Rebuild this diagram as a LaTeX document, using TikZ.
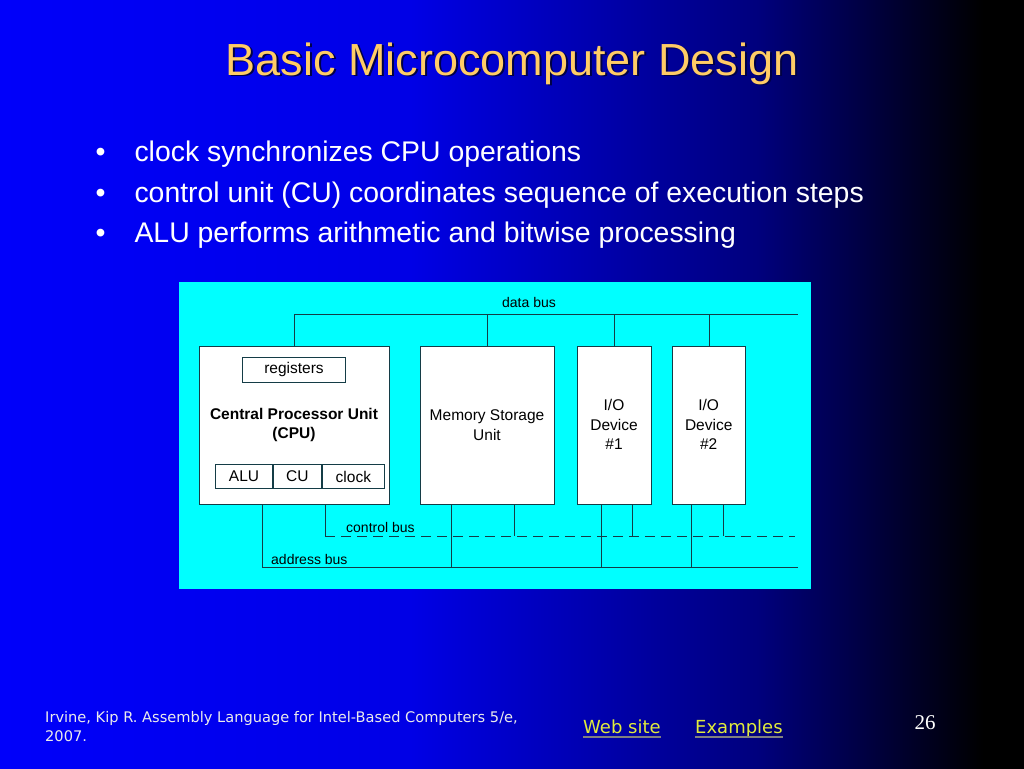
\documentclass[tikz,border=0pt]{standalone}
\usepackage{fontspec}
\setmainfont{Liberation Sans}
\newfontfamily\linkfont{DejaVu Sans}
\newfontfamily\numfont{Liberation Serif}
\usetikzlibrary{positioning}

\definecolor{slideblue}{RGB}{0,0,250}
\definecolor{titlegold}{RGB}{255,204,102}
\definecolor{panelcyan}{RGB}{0,255,255}
\definecolor{wire}{RGB}{20,60,70}
\definecolor{linkyellow}{RGB}{225,235,60}
\definecolor{citegray}{RGB}{235,235,235}

\pgfdeclarehorizontalshading{slidebg}{100bp}{color(0bp)=(slideblue); color(25bp)=(slideblue);
  color(45bp)=(slideblue!92!black); color(62bp)=(slideblue!50!black); color(73bp)=(black); color(100bp)=(black)}

\begin{document}
\begin{tikzpicture}[x=1pt, y=-1pt,
    unit/.style={draw=wire, fill=white, line width=0.8pt, inner sep=0pt, anchor=north west},
    part/.style={draw=wire, fill=white, line width=0.8pt, inner sep=0pt, minimum height=24.4,
        font=\fontsize{15.5}{18}\selectfont},
    boxtext/.style={align=center, font=\fontsize{15.5}{19.5}\selectfont},
    buslabel/.style={font=\fontsize{14}{16}\selectfont},
    bus/.style={draw=wire, line width=0.8pt},
    ctrlbus/.style={bus, dash pattern=on 10pt off 6pt},
    bullet/.style={anchor=base west, text=white, font=\fontsize{28.4}{32}\selectfont},
    link/.style={anchor=base west, text=linkyellow, font=\linkfont\fontsize{18}{20}\selectfont}
]
    % slide background
    \shade[shading=slidebg] (0,0) rectangle (1024,768);
    \useasboundingbox (0,0) rectangle (1024,768);

    % title
    \node[anchor=base, text={rgb,255:red,0;green,0;blue,70}, font=\fontsize{45}{50}\selectfont] (titleshadow) at (514,77) {Basic Microcomputer Design};
    \node[anchor=base, text=titlegold, font=\fontsize{45}{50}\selectfont] (title) at (512,75) {Basic Microcomputer Design};

    % bullets
    \foreach \txt [count=\i] in {clock synchronizes CPU operations,
        control unit (CU) coordinates sequence of execution steps,
        ALU performs arithmetic and bitwise processing} {
        \node[bullet] (dot\i) at (92,121.5+40.3*\i) {•};
        \node[bullet] (item\i) at (131,121.5+40.3*\i) {\txt};
    }

    % diagram panel
    \fill[panelcyan] (179,282) rectangle (811,589);

    % units
    \node[unit, minimum width=189.4, minimum height=158] (cpu) at (199.3,346) {};
    \node[unit, minimum width=134, minimum height=158] (mem) at (420,346) {};
    \node[unit, minimum width=73.4, minimum height=158] (io1) at (577.3,346) {};
    \node[unit, minimum width=73.4, minimum height=158] (io2) at (672,346) {};

    \node[part, minimum width=103.4] (regs) at (294,369.7) {registers};
    \node[boxtext, font=\bfseries\fontsize{15.5}{19.5}\selectfont] (cpulbl) at (294,425) {Central Processor Unit\\(CPU)};
    \node[part, minimum width=57.3, anchor=west] (alu) at (215,476.5) {ALU};
    \node[part, minimum width=47.7, right=0pt of alu] (cu) {CU};
    \node[part, minimum width=62.7, right=0pt of cu] (clock) {clock};

    \node[boxtext] (memlbl) at (487,425) {Memory Storage\\Unit};
    \node[boxtext] (io1lbl) at (614,424.5) {I/O\\Device\\\#1};
    \node[boxtext] (io2lbl) at (708.7,424.5) {I/O\\Device\\\#2};

    % buses
    \coordinate (dbus) at (798,314.5);
    \coordinate (cbus) at (795,536);
    \coordinate (abus) at (798,567);

    \draw[bus] (cpu.north) |- (dbus);
    \foreach \n in {mem,io1,io2}
        \draw[bus] (\n.north) -- (\n.north |- dbus);

    \draw[bus] ([xshift=63.4pt]cpu.south west) |- (abus);
    \draw[bus] ([xshift=126pt]cpu.south west) coordinate (cputap) -- (cputap |- cbus);
    \draw[ctrlbus] (cputap |- cbus) -- (cbus);

    \draw[bus] ([xshift=31.7pt]mem.south west) coordinate (mema) -- (mema |- abus);
    \draw[bus] ([xshift=94.3pt]mem.south west) coordinate (memc) -- (memc |- cbus);
    \draw[bus] ([xshift=23.7pt]io1.south west) coordinate (io1a) -- (io1a |- abus);
    \draw[bus] ([xshift=55.4pt]io1.south west) coordinate (io1c) -- (io1c |- cbus);
    \draw[bus] ([xshift=19.7pt]io2.south west) coordinate (io2a) -- (io2a |- abus);
    \draw[bus] ([xshift=51.7pt]io2.south west) coordinate (io2c) -- (io2c |- cbus);

    \node[buslabel] (dlbl) at (529,302) {data bus};
    \node[buslabel, anchor=west, inner sep=0pt] (clbl) at (346,527) {control bus};
    \node[buslabel, anchor=west, inner sep=0pt] (albl) at (271,559) {address bus};

    % footer
    \node[anchor=base west, inner sep=0pt, text=citegray, font=\linkfont\fontsize{14.6}{16}\selectfont] (cite1) at (45,722) {Irvine, Kip R. Assembly Language for Intel-Based Computers 5/e,};
    \node[anchor=base west, inner sep=0pt, text=citegray, font=\linkfont\fontsize{14.6}{16}\selectfont] (cite2) at (45,741) {2007.};
    \node[link, inner sep=0pt] (web) at (583,733) {Web site};
    \node[link, inner sep=0pt] (examples) at (695,733) {Examples};
    \draw[gray, line width=1.6pt] ([yshift=-4pt]web.base west) -- ([yshift=-4pt]web.base east);
    \draw[gray, line width=1.6pt] ([yshift=-4pt]examples.base west) -- ([yshift=-4pt]examples.base east);
    \node[anchor=base, text=white, font=\numfont\fontsize{21}{24}\selectfont] (pagenum) at (925,729) {26};
\end{tikzpicture}
\end{document}
